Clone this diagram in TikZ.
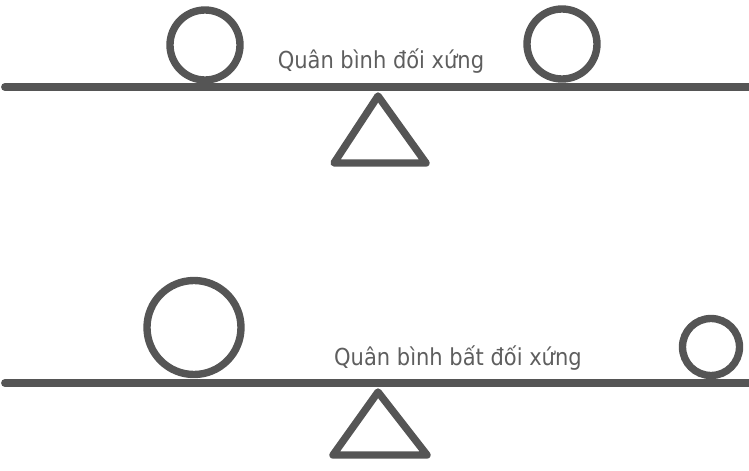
\documentclass[tikz,border=0pt]{standalone}
\usepackage{fontspec}
\setmainfont{DejaVu Sans Condensed}

\definecolor{inkgray}{HTML}{555555}
\definecolor{textgray}{HTML}{5E5E5E}

\tikzset{
    beam/.style={line width=4.5pt, draw=inkgray, line cap=round},
    ball/.style={line width=4.2pt, draw=inkgray},
    pivot/.style={line width=4.2pt, draw=inkgray, line join=round},
    caption/.style={text=textgray, font=\fontsize{13.3}{16}\selectfont, anchor=base, inner sep=0pt}
}

\begin{document}
\begin{tikzpicture}
        \useasboundingbox (0,0) rectangle (14.98,9.4);

        %%%%%%%%%% Quan binh doi xung %%%%%%%%%%
        \draw[beam] (0.1,7.66) -- (15.2,7.66);
        \draw[ball] (4.10,8.50) circle (0.70);
        \draw[ball] (11.24,8.52) circle (0.70);
        \draw[pivot] (7.56,7.48) -- (8.52,6.14) -- (6.68,6.14) -- cycle;
        \node[caption] (doixung) at (7.62,8.04) {Quân bình đối xứng};

        %%%%%%%%%% Quan binh bat doi xung %%%%%%%%%%
        \draw[beam] (0.1,1.74) -- (15.2,1.74);
        \draw[ball] (3.88,2.85) circle (0.94);
        \draw[ball] (14.22,2.46) circle (0.57);
        \draw[pivot] (7.56,1.56) -- (8.54,0.30) -- (6.66,0.30) -- cycle;
        \node[caption] (batdoixung) at (9.16,2.10) {Quân bình bất đối xứng};
\end{tikzpicture}
\end{document}
